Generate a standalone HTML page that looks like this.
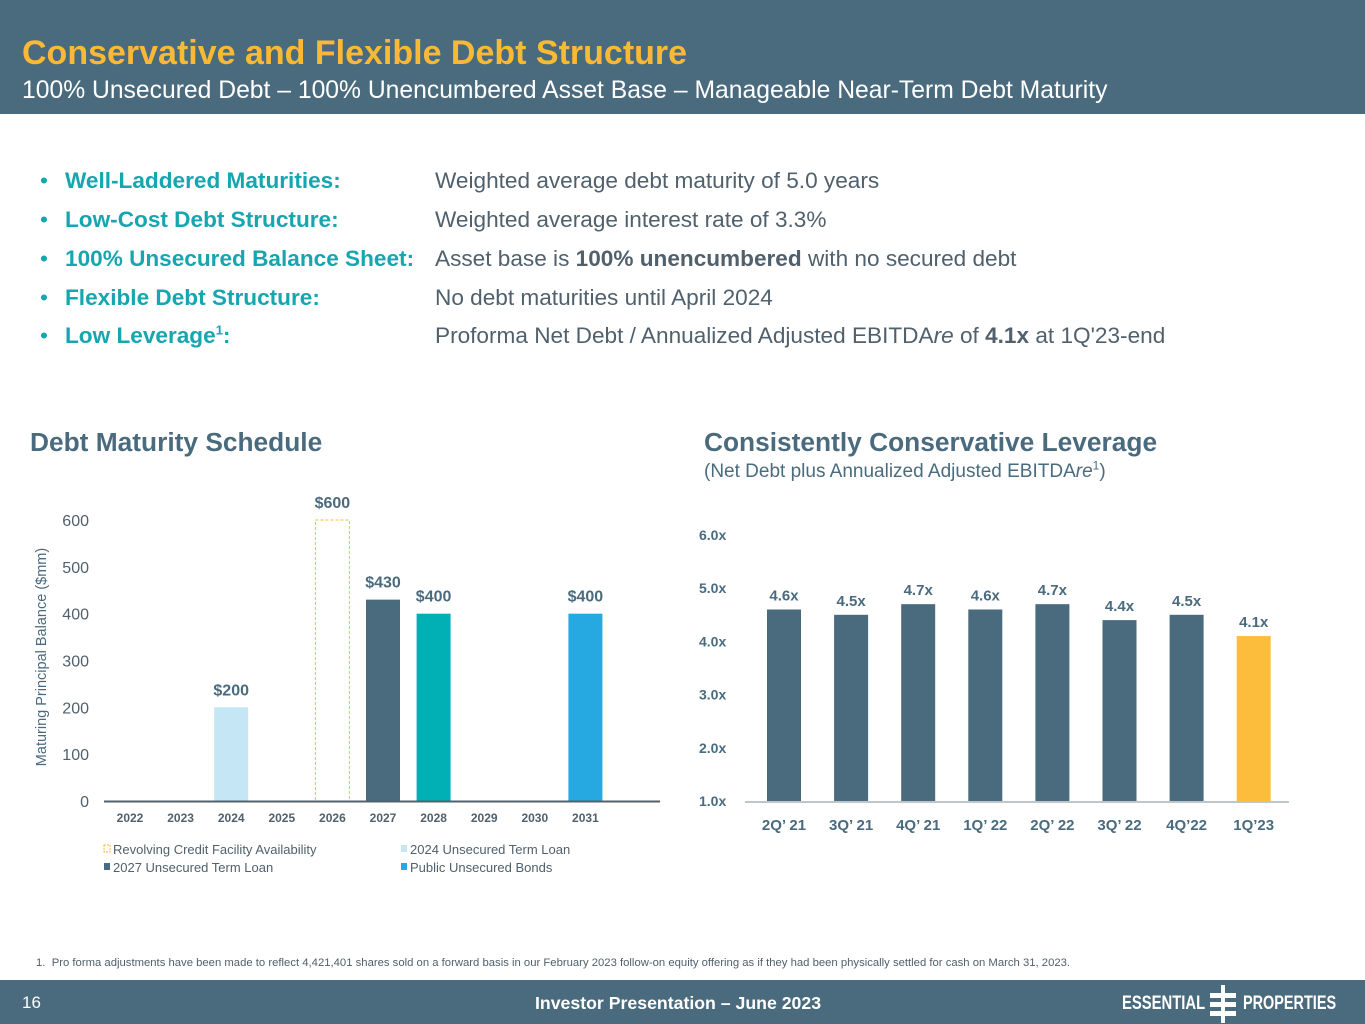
<!DOCTYPE html>
<html><head><meta charset="utf-8">
<style>
*{margin:0;padding:0;box-sizing:border-box}
body{width:1365px;height:1024px;background:#fff;font-family:"Liberation Sans",Arial,sans-serif;position:relative;overflow:hidden}
.abs{position:absolute}
#hdr{left:0;top:0;width:1365px;height:114px;background:#4a6b7e}
#title{left:22px;top:34px;font-size:34px;font-weight:bold;color:#f9b934;white-space:nowrap}
#sub{left:22px;top:77px;font-size:24.7px;color:#fff;white-space:nowrap}
.brow{left:40px;font-size:22.6px;white-space:nowrap;color:#50606c;line-height:26px}
.brow .k{color:#16a6b0;font-weight:bold;position:absolute;left:25px}
.brow .dot{color:#16a6b0;position:absolute;left:0}
.brow .v{position:absolute;left:395px}
.brow b{color:#50606c}
sup{line-height:0;font-size:13px}
.h2{font-size:26.3px;font-weight:bold;color:#4a6b7e;white-space:nowrap}
#ftr{left:0;top:980px;width:1365px;height:44px;background:#4a6b7e}
</style></head><body>
<div id="hdr" class="abs"></div>
<div id="title" class="abs">Conservative and Flexible Debt Structure</div>
<div id="sub" class="abs">100% Unsecured Debt – 100% Unencumbered Asset Base – Manageable Near-Term Debt Maturity</div>

<div class="abs brow" style="top:168px"><span class="dot">•</span><span class="k">Well-Laddered Maturities:</span><span class="v">Weighted average debt maturity of 5.0 years</span></div>
<div class="abs brow" style="top:207px"><span class="dot">•</span><span class="k">Low-Cost Debt Structure:</span><span class="v">Weighted average interest rate of 3.3%</span></div>
<div class="abs brow" style="top:246px"><span class="dot">•</span><span class="k">100% Unsecured Balance Sheet:</span><span class="v">Asset base is <b>100% unencumbered</b> with no secured debt</span></div>
<div class="abs brow" style="top:285px"><span class="dot">•</span><span class="k">Flexible Debt Structure:</span><span class="v">No debt maturities until April 2024</span></div>
<div class="abs brow" style="top:323px"><span class="dot">•</span><span class="k">Low Leverage<sup>1</sup>:</span><span class="v">Proforma Net Debt / Annualized Adjusted EBITDA<i>re</i> of <b>4.1x</b> at 1Q'23-end</span></div>

<div class="abs h2" style="left:30px;top:427px">Debt Maturity Schedule</div>
<div class="abs h2" style="left:704px;top:427px">Consistently Conservative Leverage</div>
<div class="abs" style="left:704px;top:461px;font-size:19px;color:#4a6b7e;white-space:nowrap">(Net Debt plus Annualized Adjusted EBITDA<i>re</i><sup style="font-size:12px">1</sup>)</div>

<svg class="abs" style="left:0;top:0" width="1365" height="1024" id="charts"></svg>

<div class="abs" style="left:36px;top:957px;font-size:11.3px;color:#50606c;white-space:nowrap">1.&nbsp; Pro forma adjustments have been made to reflect 4,421,401 shares sold on a forward basis in our February 2023 follow-on equity offering as if they had been physically settled for cash on March 31, 2023.</div>
<div id="ftr" class="abs"></div>
<div class="abs" style="left:22px;top:993px;font-size:17px;color:#fff">16</div>
<div class="abs" style="left:535px;top:993px;font-size:17.7px;font-weight:bold;color:#fff;white-space:nowrap">Investor Presentation – June 2023</div>
<div class="abs" style="left:1122px;top:993px;font-size:19px;font-weight:bold;color:#fff;white-space:nowrap;transform:scaleX(0.78);transform-origin:left">ESSENTIAL</div>
<div class="abs" style="left:1243px;top:993px;font-size:19px;font-weight:bold;color:#fff;white-space:nowrap;transform:scaleX(0.76);transform-origin:left">PROPERTIES</div>
<svg class="abs" style="left:1209px;top:985px" width="28" height="38">
<rect x="12" y="0" width="4" height="38" fill="#fff"/><rect x="1" y="8" width="26" height="5" fill="#fff"/><rect x="1" y="17" width="26" height="5" fill="#fff"/><rect x="1" y="26" width="26" height="5" fill="#fff"/></svg>

<script>
const years=["2022","2023","2024","2025","2026","2027","2028","2029","2030","2031"];
const debtValues=[0,0,200,0,600,430,400,0,0,400];
const debtLabels=["","","$200","","$600","$430","$400","","","$400"];
const debtSeries=["none","none","tl2024","none","revolver","tl2027","tl2028","none","none","bonds"];
const yTicks=[0,100,200,300,400,500,600];
const quarters=["2Q’ 21","3Q’ 21","4Q’ 21","1Q’ 22","2Q’ 22","3Q’ 22","4Q’22","1Q’23"];
const leverage=[4.6,4.5,4.7,4.6,4.7,4.4,4.5,4.1];
const levLabels=["4.6x","4.5x","4.7x","4.6x","4.7x","4.4x","4.5x","4.1x"];
const levTicks=["1.0x","2.0x","3.0x","4.0x","5.0x","6.0x"];
const levTickVals=[1,2,3,4,5,6];

const NS="http://www.w3.org/2000/svg";
const svg=document.getElementById('charts');
function mk(t,a,txt){const e=document.createElementNS(NS,t);for(const k in a)e.setAttribute(k,a[k]);if(txt!==undefined)e.textContent=txt;svg.appendChild(e);return e;}
const colors={tl2024:"#c5e6f5",tl2027:"#4a6b7e",tl2028:"#00b0b5",bonds:"#25a9e0"};

// left chart
const ly=v=>801-v*0.4683;
const lx=i=>130+i*50.6;
yTicks.forEach(t=>{const e=mk('text',{x:89,y:ly(t)+6,'text-anchor':'end','font-size':16,fill:'#50606c'},t);

});
years.forEach((y,i)=>{const e=mk('text',{x:lx(i),y:822,'text-anchor':'middle','font-size':12,'font-weight':'bold',fill:'#50606c'},y);

});
debtValues.forEach((v,i)=>{if(!v)return;const s=debtSeries[i];let r;
if(s==="revolver")r=mk('rect',{x:lx(i)-17,y:ly(v),width:34,height:801-ly(v),fill:'none',stroke:'#f9b934','stroke-dasharray':'3,2','stroke-width':1});
else r=mk('rect',{x:lx(i)-17,y:ly(v),width:34,height:801-ly(v),fill:colors[s]});


const t=mk('text',{x:lx(i),y:ly(v)-12,'text-anchor':'middle','font-size':16,'font-weight':'bold',fill:'#4a6b7e'},debtLabels[i]);

});
const ax=mk('line',{x1:104,y1:801.5,x2:660,y2:801.5,stroke:'#50606c','stroke-width':2});


const yt=mk('text',{transform:'translate(46,657) rotate(-90)','text-anchor':'middle','font-size':14.5,fill:'#4a6b7e'},'Maturing Principal Balance ($mm)');


const legend=[["Revolving Credit Facility Availability","revolver",104,853],["2024 Unsecured Term Loan","tl2024",401,853],["2027 Unsecured Term Loan","tl2027",104,871],["Public Unsecured Bonds","bonds",401,871]];
legend.forEach(l=>{let m;if(l[1]==="revolver")m=mk('rect',{x:l[2],y:l[3]-8,width:6,height:7,fill:'none',stroke:'#f9b934','stroke-dasharray':'2,1'});else m=mk('rect',{x:l[2],y:l[3]-8,width:6,height:7,fill:colors[l[1]]});


const t=mk('text',{x:l[2]+9,y:l[3]+1,'font-size':13,fill:'#50606c'},l[0]);

});

// right chart
const ry=v=>801-(v-1)*53.2;
const rx=i=>784+i*67.1;
levTickVals.forEach((t,i)=>{const e=mk('text',{x:699,y:ry(t)+5,'font-size':14,'font-weight':'bold',fill:'#4a6b7e'},levTicks[i]);

});
leverage.forEach((v,i)=>{const r=mk('rect',{x:rx(i)-17,y:ry(v),width:34,height:801-ry(v),fill:i===leverage.length-1?'#fbbd3b':'#4a6b7e'});


const t=mk('text',{x:rx(i),y:ry(v)-9,'text-anchor':'middle','font-size':15,'font-weight':'bold',fill:'#4a6b7e'},levLabels[i]);


const q=mk('text',{x:rx(i),y:830,'text-anchor':'middle','font-size':15,'font-weight':'bold',fill:'#4a6b7e'},quarters[i]);

});
const ax2=mk('line',{x1:745,y1:802,x2:1289,y2:802,stroke:'#aab3b9','stroke-width':1.5});


</script>
</body></html>
